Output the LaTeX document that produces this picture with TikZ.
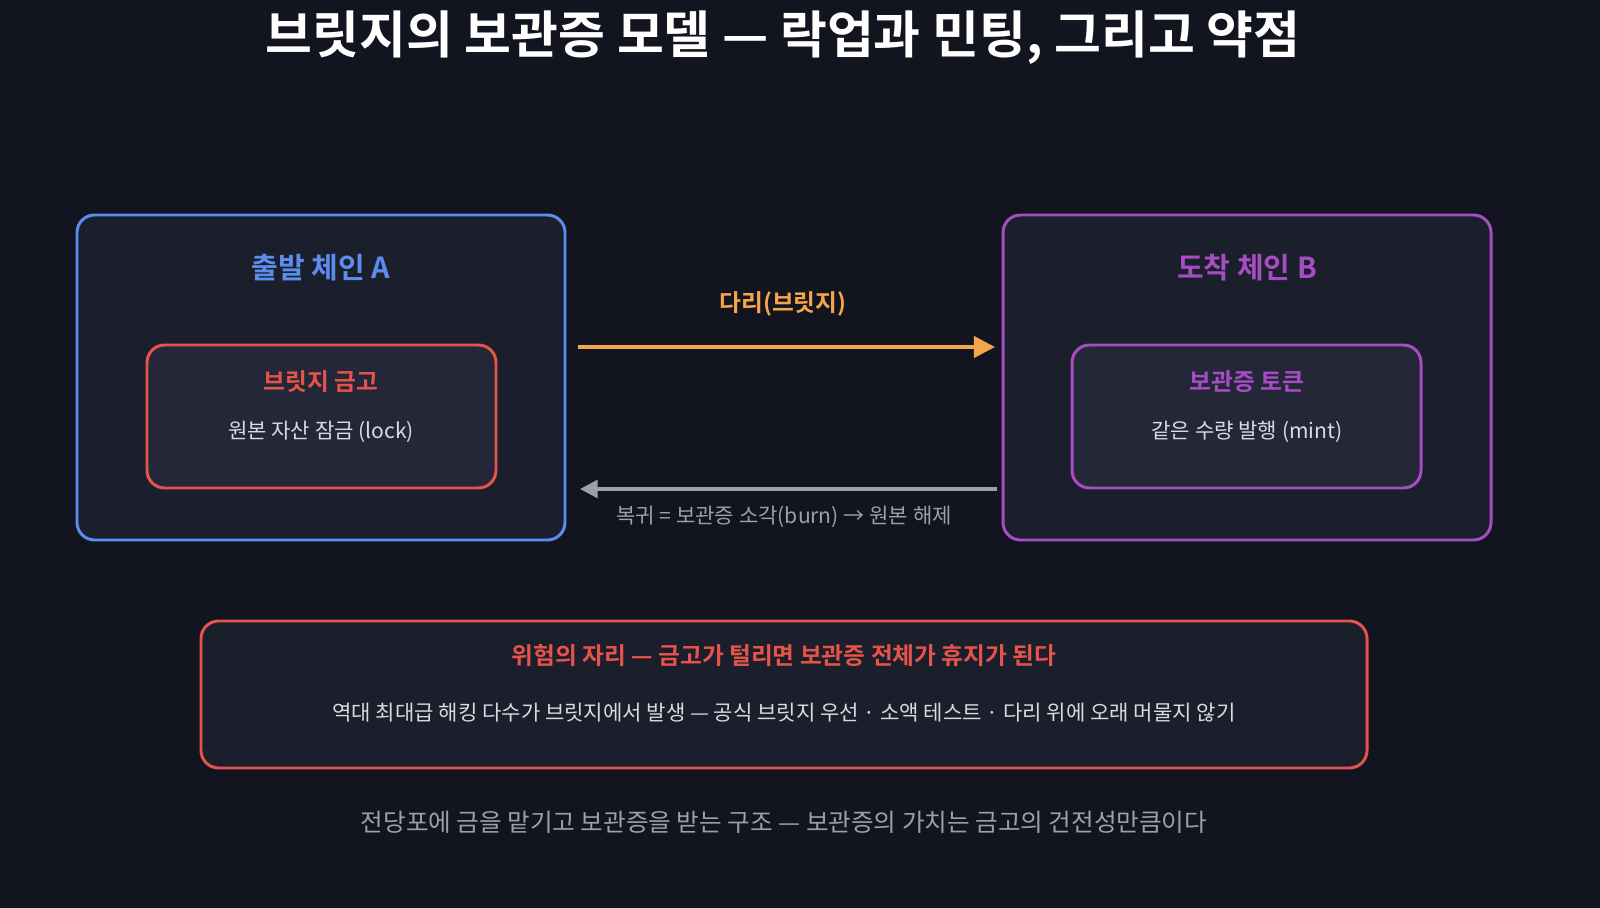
\documentclass[tikz,border=0pt]{standalone}
\usepackage{fontspec}
\setmainfont{Noto Sans CJK KR}
\newfontfamily\krbold{Noto Sans CJK KR Bold}
\usetikzlibrary{positioning,arrows.meta}
\definecolor{bgcol}{HTML}{12151F}
\definecolor{boxcol}{HTML}{1B1E2B}
\definecolor{innercol}{HTML}{232738}
\definecolor{bluecol}{HTML}{5B8DEF}
\definecolor{redcol}{HTML}{E5534B}
\definecolor{purplecol}{HTML}{A64DC4}
\definecolor{orangecol}{HTML}{F5A64A}
\definecolor{graycol}{HTML}{9AA0AC}
\definecolor{textcol}{HTML}{D8DBE2}
\tikzset{
  chainbox/.style={draw=#1, line width=1.7pt, rounded corners=10pt, fill=boxcol},
  innerbox/.style={draw=#1, line width=1.7pt, rounded corners=10pt, fill=innercol},
  boxtitle/.style={text=#1, font=\krbold\fontsize{16.5}{18}\selectfont},
  innertitle/.style={text=#1, font=\krbold\fontsize{13.5}{15}\selectfont},
  bodytext/.style={text=textcol, font=\fontsize{12}{13}\selectfont},
}
\begin{document}
\begin{tikzpicture}[x=0.02cm, y=-0.02cm]
  \fill[bgcol] (0,0) rectangle (1600,908);
  \node[text=white, font=\krbold\fontsize{29}{32}\selectfont] (title) at (783,38) {브릿지의 보관증 모델 — 락업과 민팅, 그리고 약점};
  %--- Chain A
  \draw[chainbox=bluecol] (77,215) rectangle (565,540);
  \node[boxtitle=bluecol] (atitle) at (321,268) {출발 체인 A};
  \draw[innerbox=redcol] (147,345) rectangle (496,488);
  \node[innertitle=redcol] (vault) at (321,382) {브릿지 금고};
  \node[bodytext] (lock) at (321,432) {원본 자산 잠금 (lock)};
  %--- Chain B
  \draw[chainbox=purplecol] (1003,215) rectangle (1491,540);
  \node[boxtitle=purplecol] (btitle) at (1247,268) {도착 체인 B};
  \draw[innerbox=purplecol] (1072,345) rectangle (1421,488);
  \node[innertitle=purplecol] (token) at (1247,382) {보관증 토큰};
  \node[bodytext] (mint) at (1247,432) {같은 수량 발행 (mint)};
  %--- Arrows
  \coordinate (goA) at (578,347);
  \coordinate (goB) at (995,347);
  \draw[orangecol, line width=2.2pt, -{Triangle[length=12pt,width=12pt]}] (goA) -- (goB);
  \node[text=orangecol, font=\krbold\fontsize{13.5}{15}\selectfont] (bridge) at (783,304) {다리(브릿지)};
  \coordinate (backB) at (997,489);
  \coordinate (backA) at (580,489);
  \draw[graycol, line width=2pt, -{Triangle[length=10pt,width=10pt]}] (backB) -- (backA);
  \node[text=graycol, font=\fontsize{12}{13}\selectfont] (burn) at (784,517) {복귀 = 보관증 소각(burn) → 원본 해제};
  %--- Risk
  \draw[chainbox=redcol] (201,621) rectangle (1367,768);
  \node[innertitle=redcol] (risk) at (784,656) {위험의 자리 — 금고가 털리면 보관증 전체가 휴지가 된다};
  \node[bodytext] (hack) at (784,713) {역대 최대급 해킹 다수가 브릿지에서 발생 — 공식 브릿지 우선 · 소액 테스트 · 다리 위에 오래 머물지 않기};
  \node[text=graycol, font=\fontsize{14}{15}\selectfont] (footer) at (784,822) {전당포에 금을 맡기고 보관증을 받는 구조 — 보관증의 가치는 금고의 건전성만큼이다};
\end{tikzpicture}
\end{document}
